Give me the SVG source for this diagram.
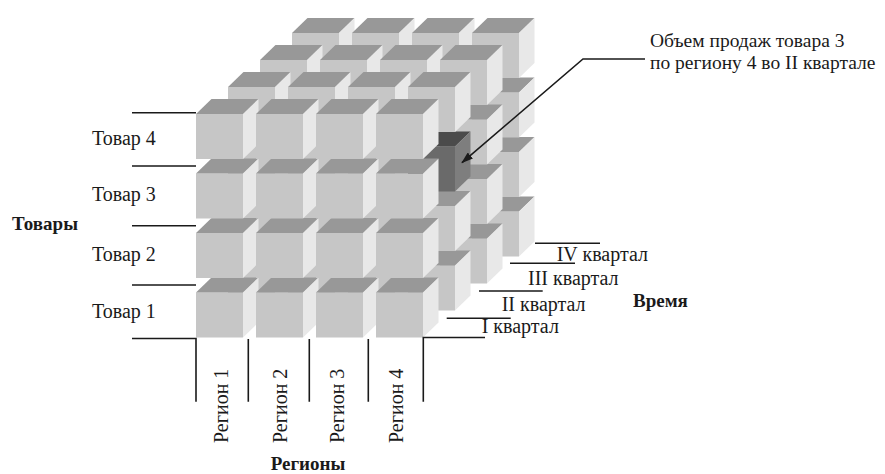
<svg xmlns="http://www.w3.org/2000/svg" xmlns:xlink="http://www.w3.org/1999/xlink" width="885" height="474" viewBox="0 0 885 474">
<style>
.f{fill:#c6c6c6}.t{fill:#989898}.s{fill:#e8e8e8}
.hf{fill:#6a6a6a}.ht{fill:#4b4b4b}.hs{fill:#7e7e7e}
.ln{stroke:#1a1a1a;stroke-width:1.6;fill:none}
.lb{font-family:"Liberation Serif","Times New Roman",serif;font-size:20px;fill:#1a1a1a}
.co{font-family:"Liberation Serif","Times New Roman",serif;font-size:19.5px;fill:#1a1a1a}
.bd{font-family:"Liberation Serif","Times New Roman",serif;font-size:19px;font-weight:bold;fill:#1a1a1a}
</style>
<defs>
<g id="cube">
<rect class="f" x="0" y="0" width="47" height="45"/>
<polygon class="t" points="0,0 15.5,-15 62.5,-15 47,0"/>
<polygon class="s" points="47,0 62.5,-15 62.5,30 47,45"/>
</g>
<g id="hcube">
<rect class="hf" x="0" y="0" width="47" height="45"/>
<polygon class="ht" points="0,0 15.5,-15 62.5,-15 47,0"/>
<polygon class="hs" points="47,0 62.5,-15 62.5,30 47,45"/>
</g>
<marker id="ah" markerWidth="12" markerHeight="8" refX="11" refY="4" orient="auto" markerUnits="userSpaceOnUse">
<polygon points="0,0 12,4 0,8" fill="#1a1a1a"/>
</marker>
</defs>
<g id="cube-grid">
<g id="q4">
<use href="#cube" x="292" y="211.5"/><use href="#cube" x="352" y="211.5"/><use href="#cube" x="412" y="211.5"/><use href="#cube" x="472" y="211.5"/>
<use href="#cube" x="292" y="152"/><use href="#cube" x="352" y="152"/><use href="#cube" x="412" y="152"/><use href="#cube" x="472" y="152"/>
<use href="#cube" x="292" y="92.5"/><use href="#cube" x="352" y="92.5"/><use href="#cube" x="412" y="92.5"/><use href="#cube" x="472" y="92.5"/>
<use href="#cube" x="292" y="33"/><use href="#cube" x="352" y="33"/><use href="#cube" x="412" y="33"/><use href="#cube" x="472" y="33"/>
</g>
<g id="q3">
<use href="#cube" x="260" y="238.5"/><use href="#cube" x="320" y="238.5"/><use href="#cube" x="380" y="238.5"/><use href="#cube" x="440" y="238.5"/>
<use href="#cube" x="260" y="179"/><use href="#cube" x="320" y="179"/><use href="#cube" x="380" y="179"/><use href="#cube" x="440" y="179"/>
<use href="#cube" x="260" y="119.5"/><use href="#cube" x="320" y="119.5"/><use href="#cube" x="380" y="119.5"/><use href="#cube" x="440" y="119.5"/>
<use href="#cube" x="260" y="60"/><use href="#cube" x="320" y="60"/><use href="#cube" x="380" y="60"/><use href="#cube" x="440" y="60"/>
</g>
<g id="q2">
<use href="#cube" x="228" y="265.5"/><use href="#cube" x="288" y="265.5"/><use href="#cube" x="348" y="265.5"/><use href="#cube" x="408" y="265.5"/>
<use href="#cube" x="228" y="206"/><use href="#cube" x="288" y="206"/><use href="#cube" x="348" y="206"/><use href="#cube" x="408" y="206"/>
<use href="#cube" x="228" y="146.5"/><use href="#cube" x="288" y="146.5"/><use href="#cube" x="348" y="146.5"/><use id="highlight" href="#hcube" x="408" y="146.5"/>
<use href="#cube" x="228" y="87"/><use href="#cube" x="288" y="87"/><use href="#cube" x="348" y="87"/><use href="#cube" x="408" y="87"/>
</g>
<g id="q1">
<use href="#cube" x="196" y="292.5"/><use href="#cube" x="256" y="292.5"/><use href="#cube" x="316" y="292.5"/><use href="#cube" x="376" y="292.5"/>
<use href="#cube" x="196" y="233"/><use href="#cube" x="256" y="233"/><use href="#cube" x="316" y="233"/><use href="#cube" x="376" y="233"/>
<use href="#cube" x="196" y="173.5"/><use href="#cube" x="256" y="173.5"/><use href="#cube" x="316" y="173.5"/><use href="#cube" x="376" y="173.5"/>
<use href="#cube" x="196" y="114"/><use href="#cube" x="256" y="114"/><use href="#cube" x="316" y="114"/><use href="#cube" x="376" y="114"/>
</g>
</g>
<g id="connectors">
<path class="ln" d="M132,112.7H196M132,166H196M132,225.7H196M132,285H196M132,338.5H196V401.7"/>
<path class="ln" d="M248.3,339V401.7M309.3,339V401.7M368.3,339V401.7"/>
<path class="ln" d="M423.3,401.7V337.5H485"/>
<path class="ln" d="M446.7,318.3H510.7M479,291H542.7M510,263.3H575M535,243.3H600"/>
<polyline class="ln" points="645,59 583,59 462,162.7" marker-end="url(#ah)"/>
</g>
<g id="labels-goods">
<text class="bd" x="12" y="230">Товары</text>
<text class="lb" x="92" y="145">Товар 4</text>
<text class="lb" x="92" y="201">Товар 3</text>
<text class="lb" x="92" y="260.5">Товар 2</text>
<text class="lb" x="92" y="318">Товар 1</text>
</g>
<g id="labels-regions">
<text class="lb" transform="translate(228,443) rotate(-90)">Регион 1</text>
<text class="lb" transform="translate(286.5,443) rotate(-90)">Регион 2</text>
<text class="lb" transform="translate(344,443) rotate(-90)">Регион 3</text>
<text class="lb" transform="translate(402.5,443) rotate(-90)">Регион 4</text>
<text class="bd" x="308" y="470" text-anchor="middle">Регионы</text>
</g>
<g id="labels-time">
<text class="lb" x="556.7" y="260.7">IV квартал</text>
<text class="lb" x="528" y="285">III квартал</text>
<text class="lb" x="501.7" y="310.7">II квартал</text>
<text class="lb" x="481.7" y="333.3">I квартал</text>
<text class="bd" x="633" y="307">Время</text>
</g>
<g id="callout">
<text class="co" x="650" y="47">Объем продаж товара 3</text>
<text class="co" x="650" y="69">по региону 4 во II квартале</text>
</g>
</svg>
